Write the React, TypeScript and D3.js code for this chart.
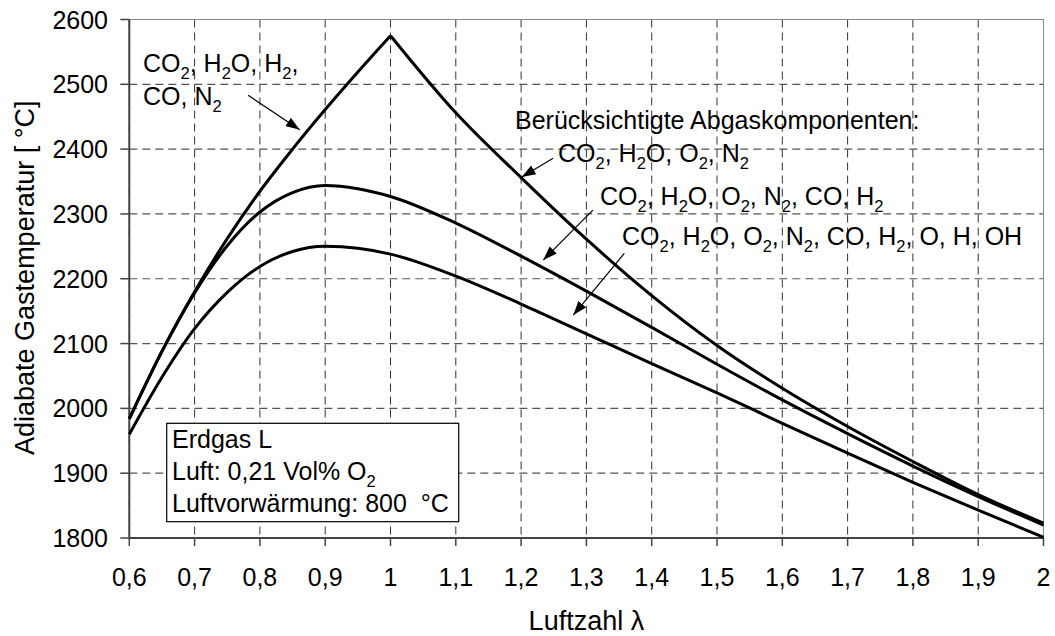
import React from "react";
import * as d3 from "d3";

// ---- data ----
const lambdaRise = [0.6, 0.65, 0.7, 0.75, 0.8, 0.85, 0.9, 0.95, 1.0];
const tempRiseA = [1984, 2088, 2180, 2262, 2335, 2400, 2461, 2519, 2575];

const lambdaFall = [1.0, 1.1, 1.2, 1.3, 1.4, 1.5, 1.6, 1.7, 1.8, 1.9, 2.0];
const tempFallA = [2575, 2456, 2356, 2261, 2174, 2097, 2031, 1972, 1918, 1867, 1823];

const lambdaFull = [0.6, 0.65, 0.7, 0.75, 0.8, 0.85, 0.9, 0.95, 1.0, 1.1, 1.2, 1.3, 1.4, 1.5, 1.6, 1.7, 1.8, 1.9, 2.0];
const tempB = [1984, 2088, 2178, 2251, 2303, 2333, 2344, 2339, 2327, 2286, 2235, 2181, 2125, 2068, 2013, 1961, 1911, 1864, 1820];
const tempC = [1960, 2048, 2123, 2179, 2219, 2242, 2250, 2247, 2238, 2204, 2161, 2115, 2069, 2024, 1977, 1931, 1886, 1843, 1801];

const xTicks = [0.6, 0.7, 0.8, 0.9, 1.0, 1.1, 1.2, 1.3, 1.4, 1.5, 1.6, 1.7, 1.8, 1.9, 2.0];
const yTicks = [1800, 1900, 2000, 2100, 2200, 2300, 2400, 2500, 2600];

const labels = [
  "CO_2, H_2O, H_2,",
  "CO, N_2",
  "Berücksichtigte Abgaskomponenten:",
  "CO_2, H_2O, O_2, N_2",
  "CO_2, H_2O, O_2, N_2, CO, H_2",
  "CO_2, H_2O, O_2, N_2, CO, H_2, O, H, OH",
];
const boxLines = ["Erdgas L", "Luft: 0,21 Vol% O_2", "Luftvorwärmung: 800\u00A0\u00A0°C"];
const xTitle = "Luftzahl λ";
const yTitle = "Adiabate Gastemperatur [\u00A0°C]";

// arrows: from (λ, T) to (λ, T)
const arrowFromL = [0.782, 1.249, 1.31, 1.358];
const arrowFromT = [2483, 2386, 2306, 2239];
const arrowToL = [0.861, 1.201, 1.234, 1.28];
const arrowToT = [2430, 2357, 2229, 2144];

const FONT = "'Liberation Sans', Arial, Helvetica, sans-serif";
const FS = 25;

function chem(str: string, fs: number) {
  const parts: React.ReactNode[] = [];
  const re = /_(\d)/g;
  let last = 0;
  let m: RegExpExecArray | null;
  let k = 0;
  let shifted = false;
  while ((m = re.exec(str)) !== null) {
    const before = str.slice(last, m.index);
    if (before) {
      parts.push(
        <tspan key={k++} dy={shifted ? -fs * 0.28 : 0}>
          {before}
        </tspan>
      );
      shifted = false;
    }
    parts.push(
      <tspan key={k++} fontSize={fs * 0.66} dy={shifted ? 0 : fs * 0.28}>
        {m[1]}
      </tspan>
    );
    shifted = true;
    last = m.index + m[0].length;
  }
  const rest = str.slice(last);
  if (rest) {
    parts.push(
      <tspan key={k++} dy={shifted ? -fs * 0.28 : 0}>
        {rest}
      </tspan>
    );
  }
  return parts;
}

export default function App() {
  const left = 129.3, right = 1043.5, top = 19.5, bottom = 538;
  const x = d3.scaleLinear().domain([0.6, 2]).range([left, right]);
  const y = d3.scaleLinear().domain([1800, 2600]).range([bottom, top]);

  const line = d3
    .line<[number, number]>()
    .x((d) => x(d[0]))
    .y((d) => y(d[1]))
    .curve(d3.curveMonotoneX);

  const zip = (a: number[], b: number[]) => a.map((v, i) => [v, b[i]] as [number, number]);

  const fmt = (v: number) => String(Math.round(v * 10) / 10).replace(".", ",");

  return (
    <svg
      width={1055}
      height={636}
      style={{ position: "absolute", left: 0, top: 0, background: "#fff" }}
      fontFamily={FONT}
    >
      <defs>
        <marker
          id="arr"
          markerUnits="userSpaceOnUse"
          markerWidth={16}
          markerHeight={12}
          refX={14}
          refY={5}
          orient="auto"
        >
          <path d="M0,0 L14,5 L0,10 Z" fill="#000" />
        </marker>
      </defs>
      <rect x={0} y={0} width={1055} height={636} fill="#fff" />

      {/* grid */}
      {yTicks.map((t) => (
        <line
          key={"gy" + t}
          x1={left}
          x2={right}
          y1={y(t)}
          y2={y(t)}
          stroke="#555"
          strokeWidth={1.2}
          strokeDasharray="8,5"
        />
      ))}
      {xTicks.map((t) => (
        <line
          key={"gx" + t}
          x1={x(t)}
          x2={x(t)}
          y1={top}
          y2={bottom}
          stroke="#333"
          strokeWidth={1}
          strokeDasharray="8,5"
        />
      ))}
      {/* frame top/right */}
      <line x1={left} x2={right} y1={top} y2={top} stroke="#888" strokeWidth={1} />
      <line x1={right} x2={right} y1={top} y2={bottom} stroke="#888" strokeWidth={1} />

      {/* axes */}
      <line x1={left} x2={left} y1={top} y2={bottom} stroke="#444" strokeWidth={2} />
      <line x1={left} x2={right} y1={bottom} y2={bottom} stroke="#444" strokeWidth={2} />
      {yTicks.map((t) => (
        <g key={"ty" + t}>
          <line x1={left - 9} x2={left} y1={y(t)} y2={y(t)} stroke="#444" strokeWidth={1.5} />
          <text x={108} y={y(t)} dy="0.36em" textAnchor="end" fontSize={FS} fill="#000">
            {t}
          </text>
        </g>
      ))}
      {xTicks.map((t) => (
        <g key={"tx" + t}>
          <line x1={x(t)} x2={x(t)} y1={bottom} y2={bottom + 8} stroke="#444" strokeWidth={1.5} />
          <text x={x(t)} y={586} textAnchor="middle" fontSize={FS} fill="#000">
            {fmt(t)}
          </text>
        </g>
      ))}
      <text x={(left + right) / 2} y={630} textAnchor="middle" fontSize={27} fill="#000">
        {xTitle}
      </text>
      <text
        transform={`translate(34,455) rotate(-90)`}
        textAnchor="start"
        fontSize={27}
        fill="#000"
      >
        {yTitle}
      </text>

      {/* curves */}
      <path d={line(zip(lambdaFull, tempC)) || ""} fill="none" stroke="#000" strokeWidth={3} />
      <path d={line(zip(lambdaFull, tempB)) || ""} fill="none" stroke="#000" strokeWidth={3} />
      <path d={line(zip(lambdaRise, tempRiseA)) || ""} fill="none" stroke="#000" strokeWidth={3} />
      <path d={line(zip(lambdaFall, tempFallA)) || ""} fill="none" stroke="#000" strokeWidth={3} />

      {/* annotations */}
      {arrowFromL.map((v, i) => (
        <line
          key={"ar" + i}
          x1={x(v)}
          y1={y(arrowFromT[i])}
          x2={x(arrowToL[i])}
          y2={y(arrowToT[i])}
          stroke="#000"
          strokeWidth={1.2}
          markerEnd="url(#arr)"
        />
      ))}
      <text x={143} y={72} fontSize={FS}>{chem(labels[0], FS)}</text>
      <text x={143} y={105} fontSize={FS}>{chem(labels[1], FS)}</text>
      <text x={515} y={129} fontSize={FS}>{labels[2]}</text>
      <text x={558} y={162} fontSize={FS}>{chem(labels[3], FS)}</text>
      <text x={600} y={205} fontSize={FS}>{chem(labels[4], FS)}</text>
      <text x={622} y={245} fontSize={FS}>{chem(labels[5], FS)}</text>

      {/* info box */}
      <rect x={166.7} y={423.3} width={292} height={98.4} fill="#fff" stroke="#000" strokeWidth={1.2} />
      {boxLines.map((s, i) => (
        <text key={"bl" + i} x={172} y={448 + i * 32} fontSize={FS}>
          {chem(s, FS)}
        </text>
      ))}
    </svg>
  );
}
